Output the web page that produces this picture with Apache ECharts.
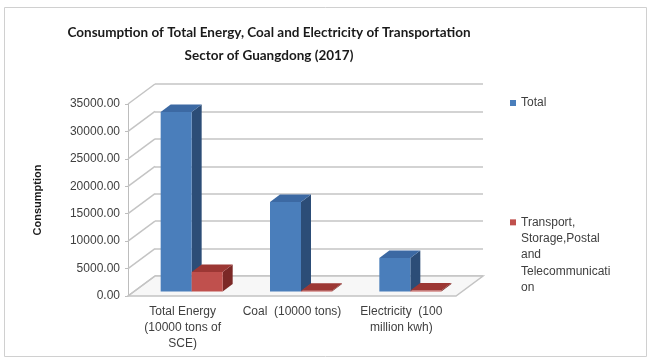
<!DOCTYPE html>
<html><head><meta charset="utf-8">
<script src="https://cdn.jsdelivr.net/npm/echarts@6/dist/echarts.min.js"></script>
<style>html,body{margin:0;padding:0;background:#fff}#c{width:649px;height:359px}</style>
</head><body><div id="c"></div>
<script>
// ---- data ----
const categories = ['Total Energy\n(10000 tons of\nSCE)', 'Coal  (10000 tons)', 'Electricity  (100\nmillion kwh)'];
const totalValues = [32700, 16300, 6100];
const transportValues = [3550, 120, 160];
const yTicks = [0, 5000, 10000, 15000, 20000, 25000, 30000, 35000];
const seriesNames = ['Total', 'Transport, Storage,Postal and Telecommunication'];
const legendLines = [['Total'], ['Transport,', 'Storage,Postal', 'and', 'Telecommunicati', 'on']];
const titleText = 'Consumption of Total Energy, Coal and Electricity of Transportation\nSector of Guangdong (2017)';
const yAxisName = 'Consumption';

// ---- style ----
const FONT = "'Liberation Sans', Arial, sans-serif";
const TITLE_FONT = "Lato, 'Liberation Sans', sans-serif";
const BACK = {left: 155, top: 84, width: 328, height: 192};
const DEPTH = [27, 20];            // front plane = back plane shifted by (-27, +20)
const BAR_FRONT = [-18, 15.5];     // bar front plane relative to back wall
const BAR_DEPTH = [10, -7.5];
const BAR_W = 31;
const COLORS = [
  {front: '#4A7EBB', top: '#3C69A3', side: '#2C4D77'},
  {front: '#C0504D', top: '#9C3734', side: '#7B2826'}
];

// legend text: icon sits on the first line (lines after it balanced by blank lines before)
function legendText(lines) {
  const pad = new Array(lines.length - 1).fill('').join('\n');
  return (lines.length > 1 ? pad + '\n' : '') + lines.join('\n');
}

const chart = echarts.init(document.getElementById('c'), null, {renderer: 'canvas'});

function barRender(k) {
  return function (params, api) {
    const i = api.value(0), v = api.value(1);
    const b = api.coord([i, 0]), t = api.coord([i, v]);
    const x0 = b[0] + BAR_FRONT[0] + (k === 0 ? -BAR_W : 0);
    const x1 = x0 + BAR_W;
    const yb = b[1] + BAR_FRONT[1];
    const yt = t[1] + BAR_FRONT[1];
    const dx = BAR_DEPTH[0], dy = BAR_DEPTH[1];
    const c = COLORS[k];
    return {
      type: 'group',
      children: [
        {type: 'polygon', shape: {points: [[x1, yt], [x1, yb], [x1 + dx, yb + dy], [x1 + dx, yt + dy]]}, style: {fill: c.side}},
        {type: 'polygon', shape: {points: [[x0, yt], [x1, yt], [x1 + dx, yt + dy], [x0 + dx, yt + dy]]}, style: {fill: c.top}},
        {type: 'rect', shape: {x: x0, y: yt, width: BAR_W, height: Math.max(0, yb - yt)}, style: {fill: c.front}}
      ]
    };
  };
}

function frameRender(params, api) {
  const cs = params.coordSys;
  const v = api.value(1);
  const y = api.coord([0, v])[1];
  const children = [];
  if (v === 0) {
    children.push({
      type: 'polygon',
      shape: {points: [[cs.x - DEPTH[0], y + DEPTH[1]], [cs.x + cs.width - DEPTH[0], y + DEPTH[1]], [cs.x + cs.width, y], [cs.x, y]]},
      style: {fill: '#f7f7f7', stroke: '#c4c4c4', lineWidth: 1.5}
    });
  }
  children.push({
    type: 'line',
    shape: {x1: cs.x - DEPTH[0], y1: y + DEPTH[1], x2: cs.x, y2: y},
    style: {stroke: '#c4c4c4', lineWidth: 1.5}
  });
  return {type: 'group', children: children};
}

const option = {
  backgroundColor: '#ffffff',
  animation: false,
  title: {
    text: titleText,
    left: 264, top: 16, textAlign: 'center',
    textStyle: {fontFamily: TITLE_FONT, fontSize: 13.5, fontWeight: 'bold', color: '#1a1a1a', lineHeight: 23}
  },
  graphic: [{
    type: 'rect', shape: {x: 4.5, y: 7.5, width: 642, height: 349},
    style: {fill: 'none', stroke: '#d0d0d0', lineWidth: 1}, z: -10, silent: true
  }],
  legend: [{
    data: [seriesNames[0]], left: 510, top: 97, orient: 'vertical', padding: 0,
    itemWidth: 6, itemHeight: 6, icon: 'rect', selectedMode: false,
    formatter: () => legendText(legendLines[0]),
    textStyle: {fontFamily: FONT, fontSize: 12, color: '#404040'}
  }, {
    data: [seriesNames[1]], left: 510, top: 149, orient: 'vertical', padding: 0,
    itemWidth: 6, itemHeight: 6, icon: 'rect', selectedMode: false,
    formatter: () => legendText(legendLines[1]),
    textStyle: {fontFamily: FONT, fontSize: 12, color: '#404040', lineHeight: 16.3}
  }],
  grid: [
    {left: BACK.left, top: BACK.top, width: BACK.width, height: BACK.height},
    {left: BACK.left - DEPTH[0], top: BACK.top + DEPTH[1], width: BACK.width, height: BACK.height}
  ],
  xAxis: [
    {type: 'category', gridIndex: 0, data: categories, show: false},
    {type: 'category', gridIndex: 1, data: categories,
      axisLine: {show: false}, axisTick: {show: false},
      axisLabel: {interval: 0, margin: 8, fontFamily: FONT, fontSize: 12, color: '#404040', lineHeight: 16}}
  ],
  yAxis: [
    {type: 'value', gridIndex: 0, min: 0, max: 35000, interval: 5000,
      axisLine: {show: false}, axisTick: {show: false}, axisLabel: {show: false},
      splitLine: {show: true, lineStyle: {color: '#c4c4c4', width: 1.5}}},
    {type: 'value', gridIndex: 1, min: 0, max: 35000, interval: 5000,
      axisLine: {show: true, lineStyle: {color: '#bdbdbd', width: 1}},
      axisTick: {show: true, length: 3, lineStyle: {color: '#bdbdbd'}},
      axisLabel: {margin: 8, fontFamily: FONT, fontSize: 12, color: '#404040', formatter: v => v.toFixed(2)},
      splitLine: {show: false},
      name: yAxisName, nameLocation: 'middle', nameGap: 85,
      nameTextStyle: {fontFamily: FONT, fontSize: 11, fontWeight: 'bold', color: '#1a1a1a'}}
  ],
  series: [
    {type: 'custom', name: 'frame', xAxisIndex: 0, yAxisIndex: 0, silent: true, z: 1, clip: false,
      data: yTicks.map(v => [0, v]), renderItem: frameRender},
    {type: 'custom', name: seriesNames[0], xAxisIndex: 0, yAxisIndex: 0, z: 3, clip: false,
      itemStyle: {color: COLORS[0].front},
      data: totalValues.map((v, i) => [i, v]), renderItem: barRender(0)},
    {type: 'custom', name: seriesNames[1], xAxisIndex: 0, yAxisIndex: 0, z: 4, clip: false,
      itemStyle: {color: COLORS[1].front},
      data: transportValues.map((v, i) => [i, v]), renderItem: barRender(1)}
  ]
};
chart.setOption(option);
</script>
</body></html>
